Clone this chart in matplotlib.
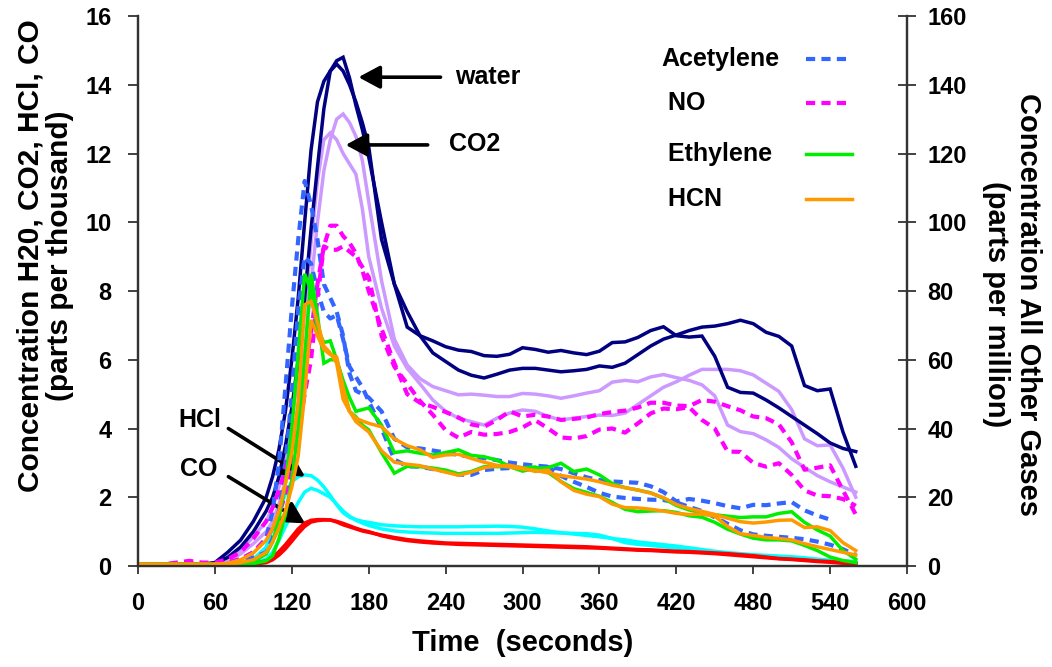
import matplotlib
matplotlib.use("Agg")
import matplotlib.pyplot as plt
import numpy as np
from matplotlib.lines import Line2D

plt.rcParams['font.family'] = ['Liberation Sans', 'DejaVu Sans']
plt.rcParams['font.weight'] = 'bold'
plt.rcParams['axes.labelweight'] = 'bold'

# sample times (s): 10 s steps, 5 s steps through the peak
time_s = ([0, 10, 20, 30, 40, 50, 60, 70, 80, 90, 100]
          + [105, 110, 115, 120, 125, 130, 135, 140, 145, 150, 155, 160, 165, 170, 175, 180]
          + list(range(190, 561, 10)))

# left axis: parts per thousand
water_1 = [0.05, 0.05, 0.05, 0.05, 0.05, 0.05, 0.1, 0.4, 0.75, 1.3, 2.0,
           2.6, 3.4, 4.5, 6.0, 7.8, 10.0, 12.1, 13.5, 14.1, 14.4, 14.7, 14.8, 14.2, 13.4, 12.7, 11.9,
           10.0, 8.2, 6.95, 6.7, 6.55, 6.38, 6.28, 6.24, 6.12, 6.1, 6.16, 6.35, 6.3, 6.22, 6.27, 6.2,
           6.15, 6.25, 6.5, 6.52, 6.65, 6.85, 6.96, 6.7, 6.66, 6.69, 6.1, 5.2, 5.05, 5.03, 4.83, 4.6,
           4.35, 4.1, 3.85, 3.58, 3.42, 3.33]
water_2 = [0.05, 0.05, 0.05, 0.05, 0.05, 0.05, 0.08, 0.25, 0.55, 1.0, 1.6,
           2.0, 2.6, 3.5, 4.6, 6.0, 7.8, 9.8, 11.6, 13.3, 14.4, 14.6, 14.4, 14.0, 13.5, 12.9, 12.2,
           9.5, 8.2, 7.4, 6.7, 6.2, 5.95, 5.7, 5.55, 5.47, 5.58, 5.7, 5.75, 5.75, 5.7, 5.65, 5.68,
           5.72, 5.82, 5.78, 5.9, 6.15, 6.4, 6.6, 6.72, 6.85, 6.95, 6.98, 7.05, 7.15, 7.05, 6.8, 6.68,
           6.4, 5.25, 5.1, 5.15, 3.9, 2.9]
co2_1 = [0.05, 0.05, 0.05, 0.05, 0.05, 0.05, 0.08, 0.2, 0.45, 0.85, 1.3,
         1.7, 2.3, 3.1, 4.2, 5.6, 7.4, 9.4, 11.2, 12.4, 12.6, 12.4, 12.0, 11.7, 11.4, 10.4, 9.0,
         7.5, 6.4, 5.75, 5.3, 4.83, 4.5, 4.3, 4.2, 4.1, 4.3, 4.45, 4.54, 4.5, 4.35, 4.25, 4.3,
         4.35, 4.39, 4.38, 4.45, 4.7, 4.95, 5.2, 5.36, 5.55, 5.72, 5.72, 5.72, 5.68, 5.56, 5.32, 5.08,
         4.55, 3.7, 3.5, 3.52, 2.85, 2.0]
co2_2 = [0.05, 0.05, 0.05, 0.05, 0.05, 0.05, 0.05, 0.15, 0.35, 0.65, 1.0,
         1.3, 1.8, 2.5, 3.4, 4.6, 6.2, 8.2, 10.0, 11.5, 12.4, 13.0, 13.15, 12.9, 12.5, 11.8, 10.6,
         8.3, 6.6, 5.85, 5.45, 5.22, 5.1, 4.98, 5.0, 4.97, 4.93, 4.93, 5.02, 5.0, 4.95, 4.88, 4.95,
         5.03, 5.1, 5.35, 5.4, 5.36, 5.5, 5.57, 5.48, 5.4, 5.27, 4.95, 4.1, 3.91, 3.85, 3.67, 3.45,
         3.12, 2.87, 2.63, 2.45, 2.3, 2.15]
hcl_1 = [0.02, 0.02, 0.02, 0.02, 0.02, 0.02, 0.02, 0.03, 0.06, 0.2, 0.55,
         1.1, 1.6, 2.1, 2.45, 2.6, 2.65, 2.63, 2.5, 2.3, 2.05, 1.78, 1.55, 1.42, 1.35, 1.3, 1.27,
         1.2, 1.17, 1.15, 1.14, 1.14, 1.14, 1.14, 1.15, 1.15, 1.16, 1.15, 1.13, 1.08, 1.02, 0.97, 0.93,
         0.89, 0.85, 0.8, 0.76, 0.7, 0.66, 0.62, 0.58, 0.53, 0.48, 0.43, 0.39, 0.36, 0.33, 0.31, 0.29,
         0.27, 0.24, 0.2, 0.17, 0.15, 0.13]
hcl_2 = [0.02, 0.02, 0.02, 0.02, 0.02, 0.02, 0.02, 0.02, 0.03, 0.08, 0.2,
         0.4, 0.75, 1.15, 1.5, 1.85, 2.15, 2.26, 2.2, 2.1, 2.0, 1.8, 1.6, 1.45, 1.33, 1.25, 1.18,
         1.08, 1.02, 0.99, 0.97, 0.96, 0.95, 0.95, 0.95, 0.95, 0.95, 0.96, 0.97, 0.98, 0.97, 0.96, 0.95,
         0.94, 0.9, 0.8, 0.68, 0.63, 0.6, 0.56, 0.52, 0.48, 0.44, 0.4, 0.37, 0.34, 0.31, 0.28, 0.25,
         0.22, 0.19, 0.16, 0.13, 0.1, 0.08]
co_1 = [0.01, 0.01, 0.01, 0.01, 0.01, 0.01, 0.01, 0.02, 0.03, 0.07, 0.15,
        0.25, 0.42, 0.62, 0.85, 1.08, 1.25, 1.33, 1.35, 1.35, 1.34, 1.28, 1.2, 1.14, 1.08, 1.02, 0.98,
        0.9, 0.83, 0.77, 0.73, 0.7, 0.67, 0.66, 0.65, 0.64, 0.63, 0.62, 0.61, 0.6, 0.59, 0.58, 0.57,
        0.56, 0.54, 0.52, 0.5, 0.48, 0.47, 0.45, 0.43, 0.42, 0.4, 0.38, 0.36, 0.33, 0.3, 0.26, 0.22,
        0.2, 0.18, 0.15, 0.13, 0.1, 0.08]
co_2 = [0.01, 0.01, 0.01, 0.01, 0.01, 0.01, 0.01, 0.01, 0.02, 0.05, 0.1,
        0.18, 0.32, 0.5, 0.72, 0.95, 1.15, 1.28, 1.32, 1.34, 1.34, 1.3, 1.24, 1.17, 1.1, 1.04, 1.0,
        0.88, 0.8, 0.74, 0.7, 0.67, 0.65, 0.63, 0.62, 0.61, 0.6, 0.59, 0.58, 0.57, 0.56, 0.55, 0.54,
        0.53, 0.52, 0.5, 0.48, 0.46, 0.45, 0.43, 0.41, 0.4, 0.38, 0.36, 0.33, 0.3, 0.27, 0.24, 0.21,
        0.19, 0.16, 0.13, 0.11, 0.08, 0.06]

# right axis: parts per million
acetylene_1 = [0.5, 0.5, 0.5, 0.5, 0.5, 0.5, 0.5, 1, 2, 4, 8,
               16, 30, 52, 75, 95, 112, 105, 95, 82, 78, 74, 67, 56, 51, 50, 49,
               45, 37, 34.5, 34.2, 33.6, 33, 32.3, 31.8, 31.4, 30.8, 30.1, 29.6, 29.2, 28.9, 28.2, 27,
               25.8, 25, 24.6, 24.4, 24.2, 23.2, 21.5, 18.8, 19.5, 19.0, 18.3, 17.4, 16.8, 17.8, 17.7, 18.2,
               18.6, 16.2, 14.7, 13.5, np.nan, np.nan]
acetylene_2 = [0.5, 0.5, 0.5, 0.5, 0.5, 0.5, 0.5, 0.8, 1.5, 2.5, 4,
               8, 16, 30, 50, 75, 90, 88, 80, 74, 72, 73, 66, 58, 55, 52, 48,
               40, 31, 29, 28.9, 28.2, 27.6, 26.6, 26.5, 27.9, 28.3, 28.5, 28.5, 28.2, 28.8, 26.2, 24.5,
               23, 21.3, 20.2, 19.8, 19.5, 19.3, 19.2, 18.5, 17.2, 16, 14.2, 12.3, 10.4, 9.2, 8.8, 8.5,
               8.2, 7.8, 7.1, 6.2, 4.9, 3.2]
no_1 = [0.5, 0.5, 0.5, 1, 1.5, 1, 1, 2, 4, 8, 13,
        17, 22, 28, 35, 45, 56, 68, 82, 93, 99, 99, 96, 94, 91, 86, 80,
        69, 59, 50, 47.5, 46.3, 44.8, 43.2, 41.2, 40.5, 42.5, 45, 43.5, 44, 43.5, 42.5, 42.8,
        43.2, 44.2, 44.8, 45.2, 46.1, 47.5, 47.5, 46.7, 46.5, 48.3, 47.8, 46.5, 45.3, 43.5, 43, 41.2,
        36, 28, 28.6, 29.3, 22, 15]
no_2 = [0.5, 0.5, 0.5, 0.5, 1, 0.5, 0.5, 1, 2, 4, 8,
        11, 15, 21, 29, 38, 50, 60, 78, 93, 92, 92, 93, 91.5, 90, 87, 84,
        67, 58, 53, 48, 44, 39.5, 37.3, 39, 38.2, 38.4, 39, 40.3, 42.4, 40, 37.4, 37.1,
        37.8, 39.7, 40, 38.8, 41.5, 44.4, 45.8, 45.6, 46.2, 42.5, 40, 33.3, 33.2, 30, 28.9, 29.9,
        26.5, 22, 20.5, 20.3, 19.5, 17.5]
ethylene_1 = [0.5, 0.5, 0.5, 0.5, 0.5, 0.5, 0.5, 0.5, 0.8, 1.3, 3.5,
              7, 14, 24, 40, 62, 85, 80, 69, 65, 65.5, 60, 54, 49, 45, 45.5, 46,
              41, 33, 33.5, 32.8, 32.3, 33, 33.8, 32.2, 31.8, 30.8, 29, 28.6, 28.8, 27.2, 24.6, 22.5,
              21.4, 20.3, 18.5, 16.5, 15.8, 16, 16.1, 15.6, 14.6, 14.2, 12.7, 10.7, 9.3, 8.1, 7.6, 7.6,
              7.3, 6.0, 4.5, 2.6, 1.6, 1.0]
ethylene_2 = [0.5, 0.5, 0.5, 0.5, 0.5, 0.5, 0.5, 0.5, 0.5, 0.7, 1.5,
              3, 8, 15, 25, 40, 60, 85, 73, 59, 60, 60, 52, 45, 43.4, 41, 39.6,
              33, 27, 29, 28.9, 28.5, 27.9, 26.8, 27.5, 28.9, 28.9, 28.9, 27.6, 28.4, 28.6, 29.9, 27.5,
              28.2, 26.5, 24, 22.8, 22.1, 21.3, 19.7, 17.6, 16.3, 15.5, 14.9, 14.5, 14.1, 14.3, 14.3, 15.3,
              15.8, 12.7, 10.5, 8.7, 4.5, 2.0]
hcn_1 = [0.5, 0.5, 0.5, 0.5, 0.5, 0.5, 0.5, 0.8, 1.8, 3.8, 7.5,
         11, 16, 24, 33, 48, 76, 77, 71, 64, 62, 59, 48.5, 45, 43, 42.2, 41.5,
         40.5, 37, 35, 33.8, 31.6, 32.3, 32.5, 31.3, 30.2, 29.3, 28.8, 28.2, 27.8, 27.1, 26.3, 25.8,
         25.3, 24.5, 23.5, 22.8, 22.1, 21.2, 19.9, 17.9, 16.7, 15.9, 15.0, 13.9, 12.9, 12.5, 12.8, 13.3,
         13.4, 11.2, 11.4, 10.3, 6.8, 4.5]
hcn_2 = [0.5, 0.5, 0.5, 0.5, 0.5, 0.5, 0.5, 0.5, 1, 1.8, 4,
         7, 11, 16, 23, 32, 50, 71.6, 67, 63, 61.5, 60.8, 52, 45, 42, 40.5, 39,
         33.5, 30.2, 29.6, 29.2, 28.2, 27.3, 26.4, 27.3, 28.6, 29.1, 29.3, 28.5, 27.5, 27.9, 24.5, 22,
         20.9, 20.2, 18, 17, 16.9, 16.5, 16, 15.3, 15, 15.1, 14.5, 11.5, 9.4, 8.9, 8.3, 8,
         7.6, 6.5, 5.6, 4.8, 4, 3.2]

legend_labels = ['Acetylene', ' NO', ' Ethylene', ' HCN']

fig = plt.figure(figsize=(10.52, 6.67), dpi=100)
ax = fig.add_axes([0.1312, 0.1514, 0.731, 0.8246])
ax2 = ax.twinx()

solid = dict(lw=2.5, solid_joinstyle='miter')
dotted = dict(lw=3.0, linestyle=(0, (2.2, 1.5)))

for y in (hcl_1, hcl_2):
    ax.plot(time_s, y, color='#00FFFF', **solid)
for y in (co_1, co_2):
    ax.plot(time_s, y, color='#FF0000', **solid)
for y in (co2_1, co2_2):
    ax.plot(time_s, y, color='#CC99FF', **solid)
for y in (water_1, water_2):
    ax.plot(time_s, y, color='#000080', **solid)

for y in (acetylene_1, acetylene_2):
    ax2.plot(time_s, y, color='#3366FF', **dotted)
for y in (no_1, no_2):
    ax2.plot(time_s, y, color='#FF00FF', **dotted)
for y in (ethylene_1, ethylene_2):
    ax2.plot(time_s, y, color='#00EE00', **solid)
for y in (hcn_1, hcn_2):
    ax2.plot(time_s, y, color='#FF9900', **solid)

ax.set_xlim(0, 600)
ax.set_ylim(0, 16)
ax2.set_ylim(0, 160)
ax.set_xticks(range(0, 601, 60))
ax.set_yticks(range(0, 17, 2))
ax2.set_yticks(range(0, 161, 20))

for a in (ax, ax2):
    a.spines['top'].set_visible(False)
    for s in ('left', 'right', 'bottom'):
        a.spines[s].set_color('#333333')
        a.spines[s].set_linewidth(1.6)

ax.tick_params(axis='x', direction='out', length=6, width=1.3, color='#333333',
               labelsize=17, pad=13)
ax.tick_params(axis='y', direction='out', length=7, width=1.3, color='#333333',
               labelsize=17, pad=12)
ax2.tick_params(axis='y', direction='inout', length=13, width=1.3, color='#333333',
                labelsize=17, pad=8)

ax.set_xlabel('Time  (seconds)', fontsize=21, labelpad=10)
ax.set_ylabel('Concentration H20, CO2, HCl, CO\n(parts per thousand)', fontsize=21.5,
              linespacing=1.08)
ax.yaxis.set_label_coords(-0.083, 0.565)
ax2.set_ylabel('Concentration All Other Gases\n(parts per million)', fontsize=21,
               rotation=-90, va='bottom', linespacing=1.2)
ax2.yaxis.set_label_coords(1.097, 0.476)

# arrows with labels
arrow = dict(arrowstyle='-|>,head_length=0.65,head_width=0.35', color='black', lw=2.6,
             mutation_scale=20, shrinkA=0, shrinkB=0)
ax.annotate('', xy=(172, 14.22), xytext=(236, 14.22), arrowprops=arrow)
ax.text(247, 14.22, 'water', fontsize=18, va='center', ha='left')
ax.annotate('', xy=(162, 12.25), xytext=(226, 12.25), arrowprops=arrow)
ax.text(243, 12.28, 'CO2', fontsize=18, va='center', ha='left')
ax.annotate('', xy=(130.3, 2.6), xytext=(70.5, 4.0), arrowprops=arrow)
ax.text(65, 4.25, 'HCl', fontsize=18, va='center', ha='right')
ax.annotate('', xy=(130.3, 1.24), xytext=(70.5, 2.6), arrowprops=arrow)
ax.text(62, 2.82, 'CO', fontsize=18, va='center', ha='right')

# legend: label on the left, line sample on the right
legend_styles = [dict(color='#3366FF', **dotted), dict(color='#FF00FF', **dotted),
                 dict(color='#00EE00', **solid), dict(color='#FF9900', **solid)]
legend_rows = [0.921, 0.841, 0.750, 0.667]
for label, style, yr in zip(legend_labels, legend_styles, legend_rows):
    ax2.text(0.680, yr, label, transform=ax2.transAxes, fontsize=18, va='center', ha='left')
    ax2.add_line(Line2D([0.8687, 0.9285], [yr, yr], transform=ax2.transAxes, **style))

fig.savefig('out.png', dpi=100)
